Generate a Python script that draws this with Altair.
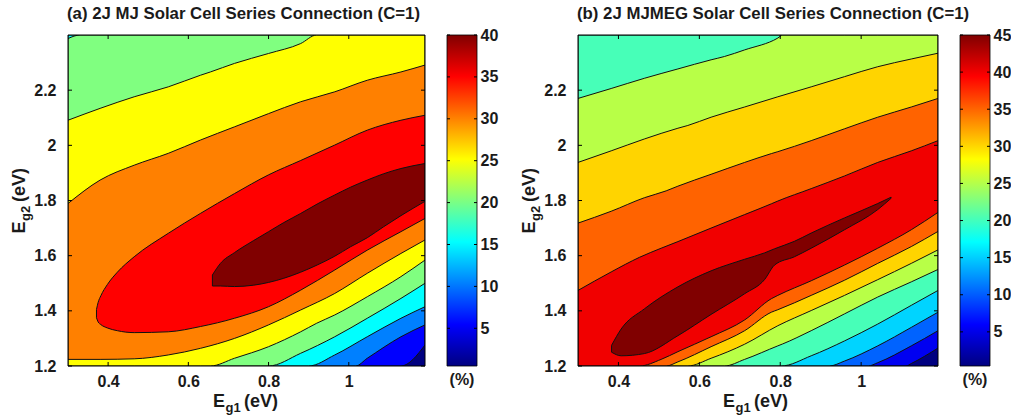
import altair as alt
import pandas as pd

FONT = "Liberation Sans"
TXT = "#1a1a1a"

# ---------------- shared axes ----------------
x_domain = [0.3, 1.19]
y_domain = [1.2, 2.4]
x_tick_values = [0.4, 0.6, 0.8, 1.0]
y_tick_values = [1.2, 1.4, 1.6, 1.8, 2.0, 2.2]

title_a = "(a) 2J MJ Solar Cell Series Connection (C=1)"
title_b = "(b) 2J MJMEG Solar Cell Series Connection (C=1)"

# jet colormap anchor stops for the colour bars
jet_offsets = [0.0, 0.125, 0.375, 0.625, 0.875, 1.0]
jet_colors = ["#000080", "#0000ff", "#00ffff", "#ffff00", "#ff0000", "#800000"]

# ---------------- panel (a): contour levels (%), band colours ----------------
a_levels = [2.5, 7.5, 12.5, 17.5, 22.5, 27.5, 32.5, 37.5]
a_colors = ["#000080", "#0000ff", "#0080ff", "#00ffff", "#80ff80",
            "#ffff00", "#ff8000", "#ff0000", "#800000"]
a_cbar_domain = [0.5, 40]
a_cbar_ticks = [5, 10, 15, 20, 25, 30, 35, 40]

# region where efficiency >= level: Eg1 samples, lower / upper Eg2 bound
a1_x = [0.30, 1.13, 1.19]
a1_lo = [1.2, 1.2, 1.276]
a1_hi = [2.4, 2.4, 2.4]

a2_x = [0.30, 1.017, 1.046, 1.13, 1.19]
a2_lo = [1.2, 1.2, 1.228, 1.306, 1.349]
a2_hi = [2.4, 2.4, 2.4, 2.4, 2.4]

a3_x = [0.30, 0.90, 0.965, 1.046, 1.13, 1.19]
a3_lo = [1.2, 1.2, 1.240, 1.306, 1.373, 1.415]
a3_hi = [2.4, 2.4, 2.4, 2.4, 2.4, 2.4]

a4_x = [0.30, 0.33, 0.80, 0.88, 0.965, 1.046, 1.13, 1.19]
a4_lo = [1.2, 1.2, 1.2, 1.246, 1.306, 1.373, 1.445, 1.500]
a4_hi = [2.387, 2.4, 2.4, 2.4, 2.4, 2.4, 2.4, 2.4]

a5_x = [0.30, 0.38, 0.465, 0.55, 0.63, 0.655, 0.715, 0.80, 0.88, 0.92, 0.965, 1.046, 1.13, 1.19]
a5_lo = [1.2, 1.2, 1.2, 1.2, 1.2, 1.2, 1.228, 1.270, 1.324, 1.355, 1.385, 1.451, 1.524, 1.584]
a5_hi = [2.091, 2.134, 2.176, 2.212, 2.254, 2.266, 2.297, 2.333, 2.369, 2.4, 2.4, 2.4, 2.4, 2.4]

a6_x = [0.30, 0.38, 0.465, 0.55, 0.63, 0.715, 0.80, 0.88, 0.965, 1.046, 1.13, 1.19]
a6_lo = [1.224, 1.224, 1.226, 1.240, 1.264, 1.300, 1.349, 1.403, 1.463, 1.536, 1.608, 1.657]
a6_hi = [1.789, 1.874, 1.928, 1.971, 2.019, 2.067, 2.115, 2.158, 2.194, 2.236, 2.266, 2.291]

a7_x = [0.371, 0.375, 0.382, 0.398, 0.423, 0.465, 0.55, 0.63, 0.715, 0.80, 0.88, 0.965, 1.046, 1.13, 1.19]
a7_lo = [1.375, 1.36, 1.35, 1.338, 1.328, 1.321, 1.324, 1.343, 1.373, 1.415, 1.475, 1.548, 1.620, 1.687, 1.735]
a7_hi = [1.405, 1.43, 1.455, 1.495, 1.54, 1.596, 1.681, 1.753, 1.825, 1.893, 1.945, 2.001, 2.055, 2.091, 2.109]

a8_x = [0.66, 0.68, 0.715, 0.763, 0.80, 0.838, 0.88, 0.921, 0.965, 1.004, 1.046, 1.087, 1.13, 1.19]
a8_lo = [1.49, 1.490, 1.488, 1.493, 1.503, 1.518, 1.540, 1.566, 1.598, 1.632, 1.665, 1.705, 1.745, 1.797]
a8_hi = [1.53, 1.572, 1.611, 1.655, 1.687, 1.72, 1.753, 1.787, 1.820, 1.848, 1.874, 1.897, 1.916, 1.934]

# ---------------- panel (b) ----------------
b_levels = [2.5, 7.5, 12.5, 17.5, 22.5, 27.5, 32.5, 37.5, 42.5]
b_colors = ["#000080", "#0000f1", "#0063ff", "#00d4ff", "#47ffb8",
            "#b8ff47", "#ffd400", "#ff6300", "#f10000", "#800000"]
b_cbar_domain = [0.4, 45]
b_cbar_ticks = [5, 10, 15, 20, 25, 30, 35, 40, 45]

b1_x = [0.30, 1.111, 1.124, 1.19]
b1_lo = [1.2, 1.2, 1.209, 1.265]
b1_hi = [2.4, 2.4, 2.4, 2.4]

b2_x = [0.30, 1.0175, 1.041, 1.124, 1.19]
b2_lo = [1.2, 1.2, 1.212, 1.273, 1.328]
b2_hi = [2.4, 2.4, 2.4, 2.4, 2.4]

b3_x = [0.30, 0.921, 0.959, 1.041, 1.124, 1.19]
b3_lo = [1.2, 1.2, 1.218, 1.273, 1.340, 1.395]
b3_hi = [2.4, 2.4, 2.4, 2.4, 2.4, 2.4]

b4_x = [0.30, 0.802, 0.8765, 0.959, 1.041, 1.124, 1.19]
b4_lo = [1.2, 1.2, 1.237, 1.291, 1.352, 1.420, 1.474]
b4_hi = [2.4, 2.4, 2.4, 2.4, 2.4, 2.4, 2.4]

b5_x = [0.30, 0.382, 0.464, 0.547, 0.629, 0.662, 0.712, 0.794, 0.806, 0.8765, 0.959, 1.041, 1.124, 1.19]
b5_lo = [1.2, 1.2, 1.2, 1.2, 1.2, 1.2, 1.224, 1.273, 1.280, 1.328, 1.389, 1.450, 1.505, 1.550]
b5_hi = [2.170, 2.206, 2.243, 2.277, 2.310, 2.322, 2.346, 2.389, 2.4, 2.4, 2.4, 2.4, 2.4, 2.4]

b6_x = [0.30, 0.382, 0.464, 0.547, 0.5715, 0.629, 0.712, 0.794, 0.8765, 0.959, 1.041, 1.124, 1.19]
b6_lo = [1.2, 1.2, 1.2, 1.2, 1.2, 1.228, 1.279, 1.346, 1.401, 1.456, 1.513, 1.572, 1.621]
b6_hi = [1.938, 1.980, 2.023, 2.062, 2.072, 2.102, 2.139, 2.176, 2.212, 2.249, 2.285, 2.313, 2.334]

b7_x = [0.30, 0.382, 0.464, 0.518, 0.547, 0.629, 0.712, 0.778, 0.794, 0.8765, 0.959, 1.041, 1.124, 1.19]
b7_lo = [1.2, 1.2, 1.2, 1.2, 1.215, 1.270, 1.328, 1.395, 1.404, 1.456, 1.511, 1.572, 1.633, 1.688]
b7_hi = [1.718, 1.761, 1.810, 1.835, 1.852, 1.895, 1.938, 1.970, 1.977, 2.017, 2.060, 2.102, 2.139, 2.170]

b8_x = [0.30, 0.382, 0.452, 0.5055, 0.547, 0.629, 0.712, 0.778, 0.794, 0.8765, 0.959, 1.041, 1.124, 1.19]
b8_lo = [1.2, 1.2, 1.2, 1.224, 1.252, 1.306, 1.367, 1.444, 1.456, 1.509, 1.566, 1.627, 1.694, 1.757]
b8_hi = [1.474, 1.541, 1.594, 1.627, 1.651, 1.700, 1.749, 1.788, 1.798, 1.843, 1.889, 1.938, 1.980, 2.017]

b9_x = [0.383, 0.4066, 0.464, 0.547, 0.629, 0.712, 0.761, 0.786, 0.835, 0.8765, 0.959, 1.041, 1.074]
b9_lo = [1.25, 1.237, 1.245, 1.310, 1.387, 1.462, 1.513, 1.566, 1.596, 1.627, 1.694, 1.767, 1.808]
b9_hi = [1.275, 1.334, 1.407, 1.487, 1.545, 1.587, 1.610, 1.625, 1.652, 1.682, 1.737, 1.789, 1.812]

a_regions = [(a1_x, a1_lo, a1_hi), (a2_x, a2_lo, a2_hi), (a3_x, a3_lo, a3_hi),
             (a4_x, a4_lo, a4_hi), (a5_x, a5_lo, a5_hi), (a6_x, a6_lo, a6_hi),
             (a7_x, a7_lo, a7_hi), (a8_x, a8_lo, a8_hi)]
b_regions = [(b1_x, b1_lo, b1_hi), (b2_x, b2_lo, b2_hi), (b3_x, b3_lo, b3_hi),
             (b4_x, b4_lo, b4_hi), (b5_x, b5_lo, b5_hi), (b6_x, b6_lo, b6_hi),
             (b7_x, b7_lo, b7_hi), (b8_x, b8_lo, b8_hi), (b9_x, b9_lo, b9_hi)]


def one(cols):
    return pd.DataFrame(cols)


def text_piece(txt, x, y, size, angle=0, dx=0, dy=0, align="left", baseline="alphabetic"):
    kw = dict(font=FONT, fontSize=size, fontWeight="bold", color=TXT,
              align=align, baseline=baseline, dx=dx, dy=dy)
    if angle:
        kw["angle"] = angle
    return alt.Chart(one({"t": [txt]})).mark_text(**kw).encode(
        x=alt.value(x), y=alt.value(y), text="t:N")


def panel(regions, colors, w, h, title, cbar_domain, cbar_ticks, sub, anchor):
    xs = alt.Scale(domain=x_domain, nice=False, zero=False)
    ys = alt.Scale(domain=y_domain, nice=False, zero=False)
    x_axis = alt.Axis(values=x_tick_values, format="~g", title=None, ticks=False,
                      domain=False, grid=False, labelFont=FONT, labelFontSize=16,
                      labelFontWeight="bold", labelColor=TXT, labelPadding=7)
    y_axis = alt.Axis(values=y_tick_values, format="~g", title=None, ticks=False,
                      domain=False, grid=False, labelFont=FONT, labelFontSize=16,
                      labelFontWeight="bold", labelColor=TXT, labelPadding=12)
    X = lambda f: alt.X(f, scale=xs, axis=x_axis)
    Y = lambda f: alt.Y(f, scale=ys, axis=y_axis)
    layers = []
    layers.append(alt.Chart(one({"d": [0]})).mark_rect(fill=colors[0]).encode(
        x=alt.value(0), x2=alt.value(w), y=alt.value(0), y2=alt.value(h)))
    for i, (xv, lo, hi) in enumerate(regions):
        df = pd.DataFrame({"x": xv, "lo": lo, "hi": hi})
        layers.append(alt.Chart(df).mark_area(
            interpolate="monotone", fill=colors[i + 1], stroke="#111111",
            strokeWidth=1.0, clip=True).encode(
            x=X("x:Q"), y=Y("lo:Q"), y2="hi:Q"))
    # inward ticks on all four sides
    xt = alt.Chart(pd.DataFrame({"t": x_tick_values})).mark_rule(color="black", strokeWidth=1)
    yt = alt.Chart(pd.DataFrame({"t": y_tick_values})).mark_rule(color="black", strokeWidth=1)
    layers.append(xt.encode(x=X("t:Q"), y=alt.value(h - 4), y2=alt.value(h)))
    layers.append(xt.encode(x=X("t:Q"), y=alt.value(0), y2=alt.value(4)))
    layers.append(yt.encode(y=Y("t:Q"), x=alt.value(0), x2=alt.value(4)))
    layers.append(yt.encode(y=Y("t:Q"), x=alt.value(w - 4), x2=alt.value(w)))
    # frame
    layers.append(alt.Chart(one({"d": [0]})).mark_rect(
        fill="transparent", stroke="black", strokeWidth=1).encode(
        x=alt.value(0), x2=alt.value(w), y=alt.value(0), y2=alt.value(h)))
    # titles
    layers.append(text_piece(title, -1, -21, 16.8, baseline="middle"))
    # x axis title  E_g1 (eV)
    xt0 = 145
    layers.append(text_piece("E", xt0, h + 41, 18))
    layers.append(text_piece("g" + sub[0], xt0 + 12.5, h + 46, 13))
    layers.append(text_piece("(eV)", xt0 + 31, h + 41, 18))
    # y axis title  E_g2 (eV), rotated
    ya = -43
    layers.append(text_piece("E", ya, h / 2, 18, angle=270, dx=-33))
    layers.append(text_piece("g" + sub[1], ya, h / 2, 13, angle=270, dx=-20.5, dy=5))
    layers.append(text_piece("(eV)", ya, h / 2, 18, angle=270, dx=-1.5))
    # colour bar unit
    layers.append(text_piece("(%)", w + 37, h + 19, 16, align="center"))
    if anchor:
        layers.append(alt.Chart(one({"d": [0]})).mark_rect(opacity=0).encode(
            x=alt.value(-68), x2=alt.value(-67), y=alt.value(-35), y2=alt.value(-34)))
    main = alt.layer(*layers)

    cs = alt.Scale(domain=cbar_domain, nice=False, zero=False)
    c_axis = alt.Axis(orient="right", offset=52, values=cbar_ticks, title=None, ticks=False,
                      domain=False, grid=False, labelFont=FONT, labelFontSize=16,
                      labelFontWeight="bold", labelColor=TXT, labelPadding=3)
    CY = lambda f: alt.Y(f, scale=cs, axis=c_axis)
    grad = alt.LinearGradient(
        gradient="linear",
        stops=[alt.GradientStop(offset=o, color=c) for o, c in zip(jet_offsets, jet_colors)],
        x1=0, x2=0, y1=1, y2=0)
    cbar_rect = alt.Chart(one({"v0": [cbar_domain[0]], "v1": [cbar_domain[1]]})).mark_rect(
        fill=grad, stroke="black", strokeWidth=0.8).encode(
        x=alt.value(w + 22), x2=alt.value(w + 52), y=CY("v0:Q"), y2="v1:Q")
    ct = alt.Chart(pd.DataFrame({"t": cbar_ticks})).mark_rule(color="black", strokeWidth=1)
    cbar = alt.layer(
        cbar_rect,
        ct.encode(y=CY("t:Q"), x=alt.value(w + 22), x2=alt.value(w + 25)),
        ct.encode(y=CY("t:Q"), x=alt.value(w + 49), x2=alt.value(w + 52)),
    )
    return alt.layer(main, cbar).resolve_scale(y="independent").properties(width=w, height=h)


pa = panel(a_regions, a_colors, 357, 331, title_a, a_cbar_domain, a_cbar_ticks, "12", True)
pb = panel(b_regions, b_colors, 360, 331, title_b, b_cbar_domain, b_cbar_ticks, "12", False)

chart = alt.hconcat(pa, pb, spacing=153, bounds="flush").properties(
    padding={"left": 0, "top": 0, "right": 0, "bottom": 0},
    background="white",
).configure_view(strokeWidth=0)

chart.save("out.html", embed_options={"renderer": "svg", "actions": False})
